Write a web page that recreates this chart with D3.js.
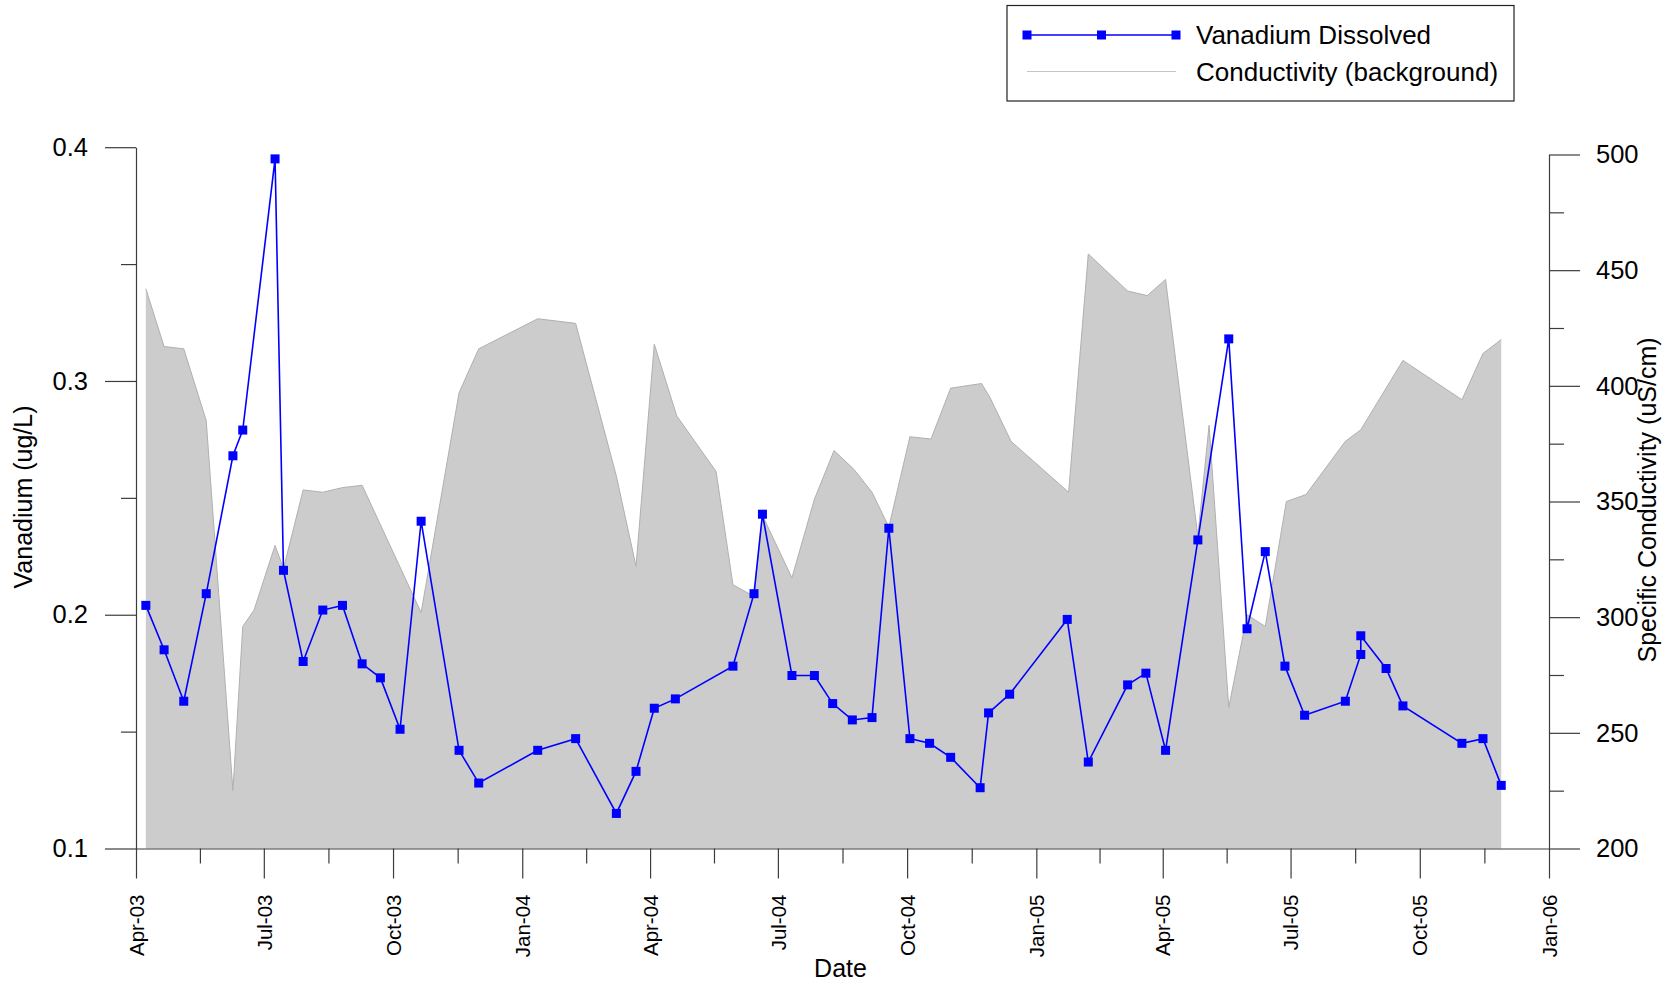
<!DOCTYPE html>
<html>
<head>
<meta charset="utf-8">
<script src="https://cdn.jsdelivr.net/npm/d3@7"></script>
<style>
  html, body { margin: 0; padding: 0; background: #fff; }
  svg { display: block; }
  text { font-family: "Liberation Sans", Arial, Helvetica, sans-serif; fill: #000; }
</style>
</head>
<body>
<svg id="chart" width="1673" height="983"></svg>
<script>
// Specific conductivity samples (background area, right axis, uS/cm)
const condDates = [
  "2003-04-08","2003-04-21","2003-05-05","2003-05-21","2003-06-09","2003-06-16","2003-06-24",
  "2003-07-02","2003-07-09","2003-07-15","2003-07-29","2003-08-12","2003-08-26","2003-09-09",
  "2003-10-21","2003-11-17","2003-12-01","2004-01-12","2004-02-08","2004-03-08","2004-03-22",
  "2004-04-04","2004-04-20","2004-05-18","2004-05-30","2004-06-14","2004-06-20","2004-07-11",
  "2004-07-27","2004-08-10","2004-08-24","2004-09-06","2004-09-18","2004-10-03","2004-10-18",
  "2004-11-01","2004-11-23","2004-11-29","2004-12-14","2005-01-24","2005-02-07","2005-03-07",
  "2005-03-21","2005-04-03","2005-04-26","2005-05-04","2005-05-18","2005-05-31","2005-06-13",
  "2005-06-28","2005-07-12","2005-08-09","2005-08-20","2005-09-19","2005-10-31","2005-11-15",
  "2005-11-28"
];
const condValues = [
  442, 417, 416, 385, 225, 296, 303,
  318, 331, 321, 355, 354, 356, 357,
  302, 397, 416, 429, 427, 361, 322,
  418, 387, 363, 314, 309, 344, 317,
  351, 372, 364, 354, 339, 378, 377,
  399, 401, 395, 376, 354, 457, 441,
  439, 446, 335, 383, 261, 301, 296,
  350, 353, 376, 381, 411, 394, 414,
  420
];

// Dissolved vanadium samples (left axis, ug/L)
const vanDates = [
  "2003-04-08","2003-04-21","2003-05-05","2003-05-21","2003-06-09","2003-06-16","2003-07-09",
  "2003-07-15","2003-07-29","2003-08-12","2003-08-26","2003-09-09","2003-09-22","2003-10-06",
  "2003-10-21","2003-11-17","2003-12-01","2004-01-12","2004-02-08","2004-03-08","2004-03-22",
  "2004-04-04","2004-04-19","2004-05-30","2004-06-14","2004-06-20","2004-07-11","2004-07-27",
  "2004-08-09","2004-08-23","2004-09-06","2004-09-18","2004-10-03","2004-10-17","2004-11-01",
  "2004-11-22","2004-11-28","2004-12-13","2005-01-23","2005-02-07","2005-03-07","2005-03-20",
  "2005-04-03","2005-04-26","2005-05-18","2005-05-31","2005-06-13","2005-06-27","2005-07-11",
  "2005-08-09","2005-08-20","2005-08-20","2005-09-07","2005-09-19","2005-10-31","2005-11-15",
  "2005-11-28"
];
const vanValues = [
  0.204, 0.185, 0.163, 0.209, 0.268, 0.279, 0.395,
  0.219, 0.180, 0.202, 0.204, 0.179, 0.173, 0.151,
  0.240, 0.142, 0.128, 0.142, 0.147, 0.115, 0.133,
  0.160, 0.164, 0.178, 0.209, 0.243, 0.174, 0.174,
  0.162, 0.155, 0.156, 0.237, 0.147, 0.145, 0.139,
  0.126, 0.158, 0.166, 0.198, 0.137, 0.170, 0.175,
  0.142, 0.232, 0.318, 0.194, 0.227, 0.178, 0.157,
  0.163, 0.183, 0.191, 0.177, 0.161, 0.145, 0.147,
  0.127
];

// Axis ticks
const xMajorTicks = ["2003-04-01","2003-07-01","2003-10-01","2004-01-01","2004-04-01","2004-07-01",
                     "2004-10-01","2005-01-01","2005-04-01","2005-07-01","2005-10-01","2006-01-01"];
const leftMajorTicks = [0.1, 0.2, 0.3, 0.4];
const leftMinorTicks = [0.15, 0.25, 0.35];
const rightMajorTicks = [200, 250, 300, 350, 400, 450, 500];
const rightMinorTicks = [225, 275, 325, 375, 425, 475];

const seriesNames = ["Vanadium Dissolved", "Conductivity (background)"];
const leftTitle = "Vanadium (ug/L)";
const rightTitle = "Specific Conductivity (uS/cm)";
const xTitle = "Date";

const parse = d3.utcParse("%Y-%m-%d");
const cond = condDates.map((d, i) => ({ date: parse(d), value: condValues[i] }));
const van = vanDates.map((d, i) => ({ date: parse(d), value: vanValues[i] }));
const xMajor = xMajorTicks.map(parse);
const xMinor = d3.pairs(xMajor).map(([a, b]) => new Date((+a + +b) / 2));

const svg = d3.select("#chart");
const axisColor = "#3c3c3c";

const x = d3.scaleUtc().domain([xMajor[0], xMajor[xMajor.length - 1]]).range([136, 1549]);
const yL = d3.scaleLinear().domain([0.1, 0.4]).range([848.5, 147.2]);
const yR = d3.scaleLinear().domain([200, 500]).range([848.5, 154.5]);

// Conductivity background area
const area = d3.area()
  .x(d => x(d.date))
  .y0(yR(200))
  .y1(d => yR(d.value));
svg.append("path")
  .datum(cond)
  .attr("d", area)
  .attr("fill", "#cccccc");
svg.append("path")
  .datum(cond)
  .attr("d", d3.line().x(d => x(d.date)).y(d => yR(d.value)))
  .attr("fill", "none")
  .attr("stroke", "#b0b0b0")
  .attr("stroke-width", 1);

// Axes
function styleAxis(g) {
  g.selectAll("path, line").attr("stroke", axisColor).attr("stroke-width", 1.2);
  g.selectAll("text").attr("fill", "#000")
    .style("font-family", '"Liberation Sans", Arial, sans-serif');
}

const gx = svg.append("g").attr("transform", `translate(0,${yL(0.1)})`)
  .call(d3.axisBottom(x).tickValues(xMajor).tickSize(30).tickSizeOuter(0)
        .tickFormat(d3.utcFormat("%b-%y")));
gx.selectAll("text")
  .attr("transform", "rotate(-90)")
  .attr("x", -46).attr("y", 0).attr("dy", "0.35em")
  .style("text-anchor", "end")
  .style("font-size", "20.5px");
styleAxis(gx);
const gxm = svg.append("g").attr("transform", `translate(0,${yL(0.1)})`)
  .call(d3.axisBottom(x).tickValues(xMinor).tickSize(15).tickFormat(""));
gxm.select(".domain").remove();
styleAxis(gxm);

const gl = svg.append("g").attr("transform", `translate(${x(xMajor[0])},0)`)
  .call(d3.axisLeft(yL).tickValues(leftMajorTicks).tickSize(31).tickSizeOuter(0)
        .tickPadding(17).tickFormat(d3.format(".1f")));
gl.selectAll("text").style("font-size", "25.5px");
styleAxis(gl);
const glm = svg.append("g").attr("transform", `translate(${x(xMajor[0])},0)`)
  .call(d3.axisLeft(yL).tickValues(leftMinorTicks).tickSize(15).tickFormat(""));
glm.select(".domain").remove();
styleAxis(glm);

const gr = svg.append("g").attr("transform", `translate(${x(xMajor[xMajor.length - 1])},0)`)
  .call(d3.axisRight(yR).tickValues(rightMajorTicks).tickSize(31).tickSizeOuter(0)
        .tickPadding(16).tickFormat(d3.format("d")));
gr.selectAll("text").style("font-size", "25.5px");
styleAxis(gr);
const grm = svg.append("g").attr("transform", `translate(${x(xMajor[xMajor.length - 1])},0)`)
  .call(d3.axisRight(yR).tickValues(rightMinorTicks).tickSize(15).tickFormat(""));
grm.select(".domain").remove();
styleAxis(grm);

// Axis titles
svg.append("text")
  .attr("transform", "translate(32,497) rotate(-90)")
  .attr("text-anchor", "middle")
  .style("font-size", "25px")
  .text(leftTitle);
svg.append("text")
  .attr("transform", "translate(1656,500) rotate(-90)")
  .attr("text-anchor", "middle")
  .style("font-size", "25px")
  .text(rightTitle);
svg.append("text")
  .attr("x", (x.range()[0] + x.range()[1]) / 2 - 2)
  .attr("y", 977)
  .attr("text-anchor", "middle")
  .style("font-size", "25px")
  .text(xTitle);

// Vanadium series
const blue = "#0000ff";
const ms = 9;
svg.append("path")
  .datum(van)
  .attr("d", d3.line().x(d => x(d.date)).y(d => yL(d.value)))
  .attr("fill", "none")
  .attr("stroke", blue)
  .attr("stroke-width", 1.6);
svg.append("g").selectAll("rect")
  .data(van)
  .join("rect")
  .attr("x", d => x(d.date) - ms / 2)
  .attr("y", d => yL(d.value) - ms / 2)
  .attr("width", ms).attr("height", ms)
  .attr("fill", blue);

// Legend
const legend = svg.append("g");
legend.append("rect")
  .attr("x", 1007).attr("y", 5.5).attr("width", 507).attr("height", 95.5)
  .attr("fill", "#fff").attr("stroke", "#222").attr("stroke-width", 1.2);
const lx0 = 1027, lx1 = 1176;
legend.append("line")
  .attr("x1", lx0).attr("x2", lx1).attr("y1", 35).attr("y2", 35)
  .attr("stroke", blue).attr("stroke-width", 1.6);
legend.selectAll(".lm")
  .data([lx0, (lx0 + lx1) / 2, lx1])
  .join("rect")
  .attr("x", d => d - ms / 2).attr("y", 35 - ms / 2)
  .attr("width", ms).attr("height", ms)
  .attr("fill", blue);
legend.append("line")
  .attr("x1", lx0).attr("x2", lx1).attr("y1", 71.5).attr("y2", 71.5)
  .attr("stroke", "#c4c4c4").attr("stroke-width", 1.2);
legend.selectAll(".lt")
  .data(seriesNames)
  .join("text")
  .attr("x", 1196)
  .attr("y", (d, i) => i === 0 ? 35 : 71.5)
  .attr("dy", "0.35em")
  .style("font-size", "26px")
  .text(d => d);
</script>
</body>
</html>
